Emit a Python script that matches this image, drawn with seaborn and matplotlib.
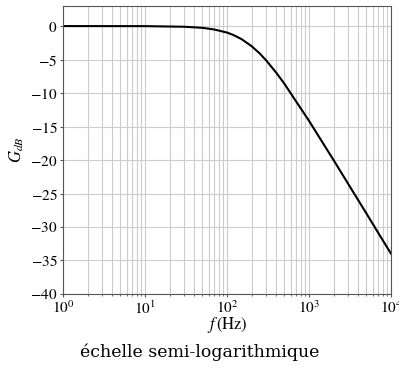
import seaborn as sns
import matplotlib.pyplot as plt
import pandas as pd

# Valeurs (gain d'un filtre passe-bas)
freq = [1, 10, 30, 50, 70, 100, 120, 150, 200, 250, 300, 400, 500, 700,
        1000, 1500, 2000, 3000, 5000, 7000, 10000]
gain = [0.0, -0.01, -0.1, -0.26, -0.51, -0.97, -1.34, -1.94, -3.01, -4.08,
        -5.12, -6.99, -8.6, -11.3, -14.15, -17.6, -20.04, -23.55, -27.96,
        -30.9, -33.98]
yticks = [0, -5, -10, -15, -20, -25, -30, -35, -40]

df = pd.DataFrame({"f": freq, "G": gain})

plt.rcParams["mathtext.fontset"] = "stix"
plt.rcParams["font.family"] = "STIXGeneral"
plt.rcParams["axes.formatter.use_mathtext"] = True

fig = plt.figure(figsize=(3.99, 3.74), dpi=100)
ax = fig.add_axes([0.158, 0.214, 0.822, 0.77])

sns.lineplot(x="f", y="G", data=df, ax=ax, color="black", linewidth=1.5)
ax.set_xscale("log")
ax.set_xlim(1, 1e4)
ax.set_ylim(-40, 3)
ax.set_yticks(yticks)
ax.grid(True, which="both", color="#cccccc", linewidth=0.8)
ax.set_axisbelow(True)
for s in ax.spines.values():
    s.set_color("#555555")
ax.tick_params(which="major", length=2.5, pad=1.5, labelsize=11,
               colors="#555555", labelcolor="black")
ax.tick_params(which="minor", length=1.5, colors="#555555")
ax.set_xlabel(r"$f\,$(Hz)", fontsize=12, labelpad=-1)
ax.set_ylabel(r"$G_{dB}$", fontsize=12, labelpad=3)

fig.text(0.5, 0.045, "échelle semi-logarithmique", ha="center",
         fontsize=12.5, family="DejaVu Serif")

fig.savefig("out.png", dpi=100)
